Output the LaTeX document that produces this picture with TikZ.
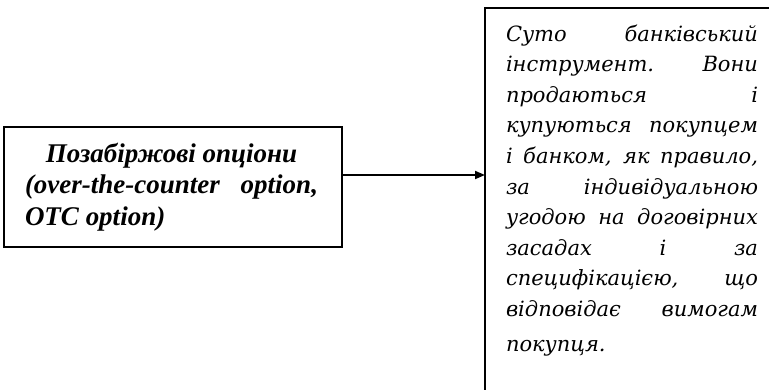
\documentclass[tikz,border=0pt]{standalone}
\usepackage{fontspec}
\setmainfont{Liberation Serif}
\newfontfamily\notefont{DejaVu Serif}
\usetikzlibrary{arrows.meta}
\begin{document}
\begin{tikzpicture}[x=1pt,y=-1pt,
  frame/.style={draw, line width=1.8pt, inner sep=0pt, outer sep=0pt},
  txt/.style={anchor=base west, inner sep=0pt, outer sep=0pt},
  link/.style={line width=1.8pt, -{Triangle[length=10pt,width=8pt]}}]
\useasboundingbox (0,0) rectangle (769,389);
\clip (0,0) rectangle (769,389);

% left box
\node[frame, anchor=north west, minimum width=338pt, minimum height=120pt] (src) at (4,127) {};
\node[txt] (srctext) at (25,162) {\parbox[t]{293pt}{\fontsize{27}{31.5}\selectfont\bfseries\itshape
  \makebox[\linewidth]{Позабіржові опціони}\\
  \makebox[\linewidth][s]{(over-the-counter option,}\\
  OTC option)}};

% right box, running past the page edge
\node[frame, anchor=north west, minimum width=340pt, minimum height=420pt] (dst) at (485,8) {};
\node[txt] (dsttext) at (506,41) {\parbox[t]{252pt}{\notefont\fontsize{21}{30.6}\selectfont\itshape
  \makebox[\linewidth][s]{Суто банківський}\\
  \makebox[\linewidth][s]{інструмент. Вони}\\
  \makebox[\linewidth][s]{продаються і}\\
  \makebox[\linewidth][s]{купуються покупцем}\\
  \makebox[\linewidth][s]{і банком, як правило,}\\
  \makebox[\linewidth][s]{за індивідуальною}\\
  \makebox[\linewidth][s]{угодою на договірних}\\
  \makebox[\linewidth][s]{засадах і за}\\
  \makebox[\linewidth][s]{специфікацією, що}\\
  \makebox[\linewidth][s]{відповідає вимогам}\\[4.5pt]
  покупця.}};

% connector
\coordinate (tail) at ([yshift=12pt]src.east);
\draw[link] (tail) -- (tail -| dst.west);
\end{tikzpicture}
\end{document}
